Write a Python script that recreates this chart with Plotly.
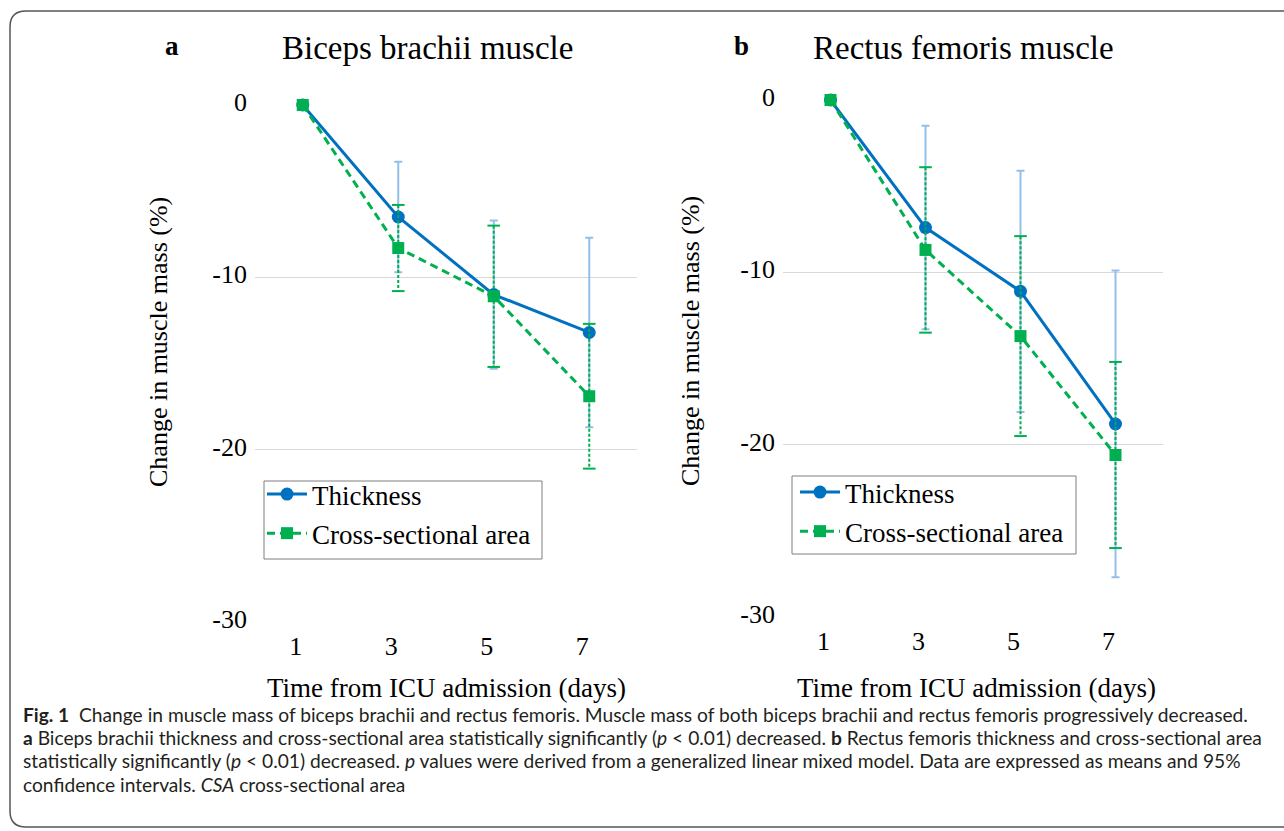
import plotly.graph_objects as go

W, H = 1284, 831

days = [1, 3, 5, 7]
day_labels = ["1", "3", "5", "7"]

# Panel a: Biceps brachii
a_thick = [0, -6.5, -11.0, -13.2]
a_thick_err = [0, 3.2, 4.3, 5.5]
a_csa = [0, -8.3, -11.1, -16.9]
a_csa_err = [0, 2.5, 4.1, 4.2]

# Panel b: Rectus femoris
b_thick = [0, -7.4, -11.1, -18.8]
b_thick_err = [0, 5.9, 7.0, 8.9]
b_csa = [0, -8.7, -13.7, -20.6]
b_csa_err = [0, 4.8, 5.8, 5.4]

y_ticks = [0, -10, -20, -30]
y_tick_labels = ["0", "-10", "-20", "-30"]

BLUE = "#0070C0"
LBLUE = "#93C0E8"
GREEN = "#00B050"
SERIF = "Liberation Serif, Times New Roman, serif"


def px_x(p):
    return p / W


def px_y(p):
    return 1 - p / H


fig = go.Figure()

panels = [
    ("x", "y", a_thick, a_thick_err, a_csa, a_csa_err, "legend"),
    ("x2", "y2", b_thick, b_thick_err, b_csa, b_csa_err, "legend2"),
]

for xa, ya, th, the, cs, cse, lg in panels:
    fig.add_trace(go.Scatter(
        x=days, y=th, xaxis=xa, yaxis=ya, name="Thickness",
        mode="lines+markers", legend=lg, legendgroup="t" + xa,
        line=dict(color=BLUE, width=3),
        marker=dict(symbol="circle", size=13, color=BLUE),
        error_y=dict(type="data", array=the, visible=True, color=LBLUE,
                     thickness=2, width=4),
        cliponaxis=False,
    ))
    ex, ey = [], []
    for d, m, e in zip(days, cs, cse):
        if e > 0:
            ex += [d, d, None]
            ey += [m + e, m - e, None]
    fig.add_trace(go.Scatter(
        x=ex, y=ey, xaxis=xa, yaxis=ya, mode="lines+markers",
        line=dict(color=GREEN, width=2, dash="3px,2px"),
        marker=dict(symbol="line-ew", size=9, line=dict(color=GREEN, width=2)),
        showlegend=False, hoverinfo="skip", cliponaxis=False,
    ))
    fig.add_trace(go.Scatter(
        x=days, y=cs, xaxis=xa, yaxis=ya, name="Cross-sectional area",
        mode="lines+markers", legend=lg, legendgroup="c" + xa,
        line=dict(color=GREEN, width=3, dash="8px,5px"),
        marker=dict(symbol="square", size=12, color=GREEN),
        cliponaxis=False,
    ))

axis_common_x = dict(
    range=[0, 8], tickmode="array", tickvals=days, ticktext=day_labels,
    showgrid=False, zeroline=False, showline=False, ticks="",
    tickfont=dict(family=SERIF, size=26, color="#000"),
    ticklabelstandoff=6, ticklabelshift=-7, fixedrange=True, automargin=False,
)
axis_common_y = dict(
    range=[-30, 0], tickmode="array", tickvals=y_ticks, ticktext=y_tick_labels,
    showgrid=True, gridcolor="#D9D9D9", gridwidth=1, zeroline=False,
    showline=False, ticks="",
    tickfont=dict(family=SERIF, size=26, color="#000"),
    ticklabelstandoff=7, ticklabelshift=-3, fixedrange=True, automargin=False,
)

leg_common = dict(xanchor="left", yanchor="top",
                  borderwidth=0, bgcolor="rgba(0,0,0,0)",
                  font=dict(family=SERIF, size=27, color="#000"),
                  tracegroupgap=1, itemwidth=40)

fig.update_layout(
    width=W, height=H, margin=dict(l=0, r=0, t=0, b=0, autoexpand=False),
    paper_bgcolor="white", plot_bgcolor="white",
    xaxis=dict(domain=[px_x(255), px_x(637)], anchor="y", **axis_common_x),
    yaxis=dict(domain=[px_y(622), px_y(105)], anchor="x", **axis_common_y),
    xaxis2=dict(domain=[px_x(783), px_x(1163)], anchor="y2", **axis_common_x),
    yaxis2=dict(domain=[px_y(617), px_y(100)], anchor="x2", **axis_common_y),
    legend=dict(x=px_x(262), y=px_y(470), **leg_common),
    legend2=dict(x=px_x(795), y=px_y(468), **leg_common),
    showlegend=True,
)

ann = []
def add_text(x, y, text, size, family=SERIF, angle=0, xanchor="center", color="#000"):
    ann.append(dict(x=px_x(x), y=px_y(y), xref="paper", yref="paper", text=text,
                    showarrow=False, textangle=angle, xanchor=xanchor, yanchor="middle",
                    font=dict(family=family, size=size, color=color)))

add_text(172, 46, "<b>a</b>", 27)
add_text(741, 46, "<b>b</b>", 27)
add_text(427, 48, "Biceps brachii muscle", 33)
add_text(963, 48, "Rectus femoris muscle", 33)
add_text(158, 342, "Change in muscle mass (%)", 26, angle=-90)
add_text(690, 341, "Change in muscle mass (%)", 26, angle=-90)
add_text(446, 688, "Time from ICU admission (days)", 27)
add_text(977, 688, "Time from ICU admission (days)", 27)

CAP = "Lato, sans-serif"
cap_lines = [
    "<b>Fig. 1</b>  Change in muscle mass of biceps brachii and rectus femoris. Muscle mass of both biceps brachii and rectus femoris progressively decreased.",
    "<b>a</b> Biceps brachii thickness and cross-sectional area statistically significantly (<i>p</i> &lt; 0.01) decreased. <b>b</b> Rectus femoris thickness and cross-sectional area",
    "statistically significantly (<i>p</i> &lt; 0.01) decreased. <i>p</i> values were derived from a generalized linear mixed model. Data are expressed as means and 95%",
    "confidence intervals. <i>CSA</i> cross-sectional area",
]
for i, t in enumerate(cap_lines):
    add_text(21, 714 + 23.4 * i, t, 19.2, family=CAP, xanchor="left", color="#231F20")

fig.update_layout(annotations=ann)

# legend frames
for (lx0, ly0, lx1, ly1) in [(264, 481, 542, 559), (792, 476, 1076, 554)]:
    fig.add_shape(type="rect", xref="paper", yref="paper",
                  x0=px_x(lx0), x1=px_x(lx1), y0=px_y(ly1), y1=px_y(ly0),
                  line=dict(color="#7F7F7F", width=1), fillcolor="white", layer="below")

# rounded outer frame
r = 16
x0, y0, x1, y1 = 10, 11, 1300, 827
def P(x, y):
    return f"{px_x(x):.5f},{px_y(y):.5f}"
path = (f"M {P(x1, y0)} L {P(x0 + r, y0)} Q {P(x0, y0)} {P(x0, y0 + r)} "
        f"L {P(x0, y1 - r)} Q {P(x0, y1)} {P(x0 + r, y1)} L {P(x1, y1)}")
fig.add_shape(type="path", path=path, xref="paper", yref="paper",
              line=dict(color="#555555", width=1.5))

fig.write_html("out.html", config={"displayModeBar": False},
               post_script="document.body.style.margin='0';document.body.style.overflow='hidden';")
